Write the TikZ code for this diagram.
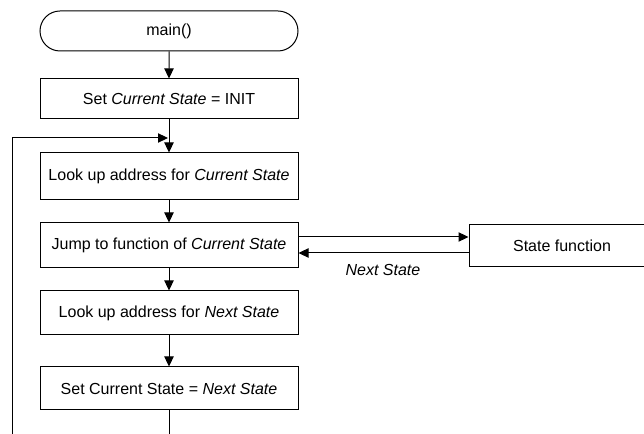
\documentclass[tikz,border=0pt]{standalone}
\usepackage{fontspec}
\setmainfont{Liberation Sans}
\usetikzlibrary{arrows.meta,shapes.misc}
\begin{document}
\begin{tikzpicture}[x=0.75pt,y=-0.75pt,
  box/.style={draw,line width=0.75pt,minimum width=258*0.75pt,inner sep=0pt,font=\fontsize{12}{14}\selectfont},
  arr/.style={-{Triangle[length=7.5pt,width=7pt]},line width=0.75pt},
  ln/.style={line width=0.75pt}]
\useasboundingbox (0,0) rectangle (644,434);
\node[box,rounded rectangle,minimum height=40*0.75pt] (main) at (169,31) {main()};
\node[box,minimum height=40*0.75pt] (init) at (169,99) {Set \textit{Current State} = INIT};
\node[box,minimum height=47*0.75pt] (lookcur) at (169,176.5) {Look up address for \textit{Current State}};
\node[box,minimum height=45*0.75pt] (jump) at (169,245.5) {Jump to function of \textit{Current State}};
\node[box,minimum height=44*0.75pt] (looknext) at (169,313) {Look up address for \textit{Next State}};
\node[box,minimum height=43*0.75pt] (setcur) at (169,388.5) {Set Current State = \textit{Next State}};
\node[box,minimum width=186*0.75pt,minimum height=42*0.75pt] (sf) at (562,246) {State function};
\coordinate (bot) at (169,436);
\coordinate (lbot) at (12,436);
\coordinate (ltop) at (12,138);
\coordinate (lend) at (168,138);
\draw[arr] (main) -- (init);
\draw[arr] (init) -- (lookcur);
\draw[arr] (lookcur) -- (jump);
\draw[arr] (jump) -- (looknext);
\draw[arr] (looknext) -- (setcur);
\draw[ln] (setcur) -- (bot);
\draw[arr] (lbot) -- (ltop) -- (lend);
\draw[arr] (jump.east |- 0,237) -- (sf.west |- 0,237);
\draw[arr] (sf.west |- 0,253) -- (jump.east |- 0,253);
\node[font=\fontsize{12}{14}\selectfont\itshape] (ns) at (383,270) {Next State};
\end{tikzpicture}
\end{document}
